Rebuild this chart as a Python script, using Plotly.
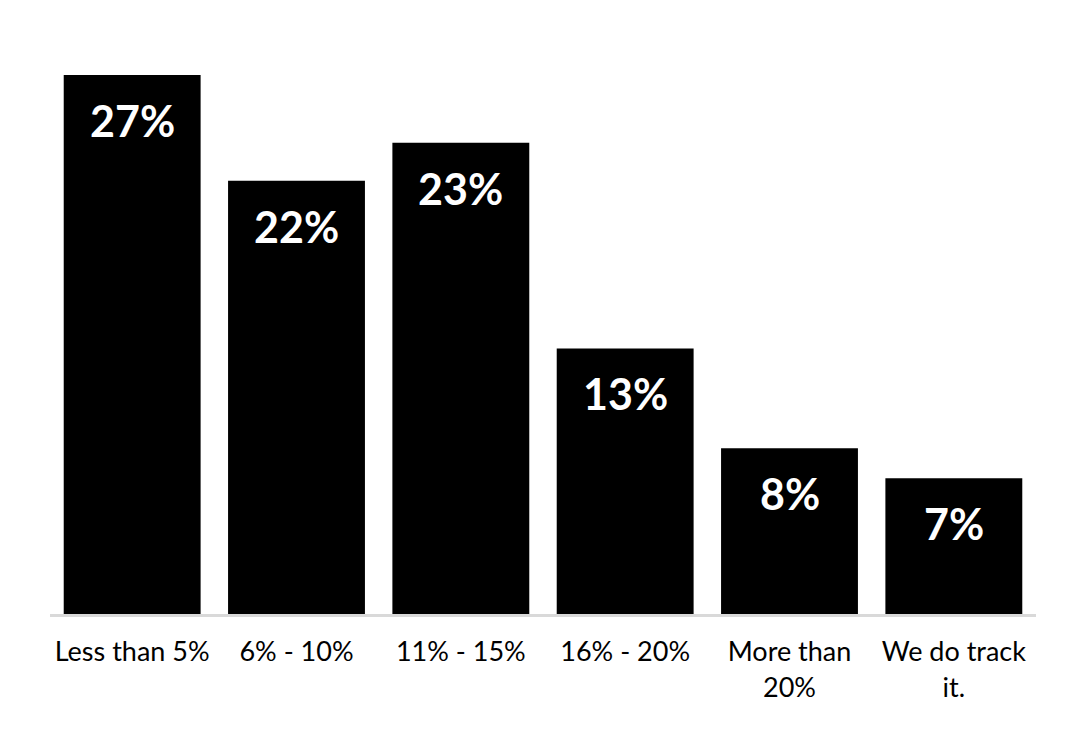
import plotly.graph_objects as go

categories = ["Less than 5%", "6% - 10%", "11% - 15%", "16% - 20%", "More than<br>20%", "We do track<br>it."]
values = [27.0, 21.7, 23.6, 13.3, 8.3, 6.8]
labels = ["27%", "22%", "23%", "13%", "8%", "7%"]

fig = go.Figure()
fig.add_trace(go.Bar(
    x=categories, y=values,
    marker=dict(color="#000000", line=dict(width=0)),
    hoverinfo="skip",
))
for c, v, t in zip(categories, values, labels):
    fig.add_annotation(x=c, y=v, text="<b>" + t + "</b>", showarrow=False,
                       yanchor="top", yshift=-18,
                       font=dict(family="Lato", size=43, color="#ffffff"))

fig.update_layout(
    width=1088, height=730,
    margin=dict(l=42, r=60, t=7, b=124),
    paper_bgcolor="#ffffff", plot_bgcolor="#ffffff",
    bargap=0.167,
    showlegend=False,
    font=dict(family="Lato", color="#000000"),
    xaxis=dict(showline=True, linecolor="#d9d9d9", linewidth=3,
               tickfont=dict(family="Lato", size=27, color="#000000"),
               ticklabelstandoff=12,
               ticks="", showgrid=False),
    yaxis=dict(range=[0, 30], visible=False, showgrid=False, zeroline=False),
)
fig.write_html("out.html")
